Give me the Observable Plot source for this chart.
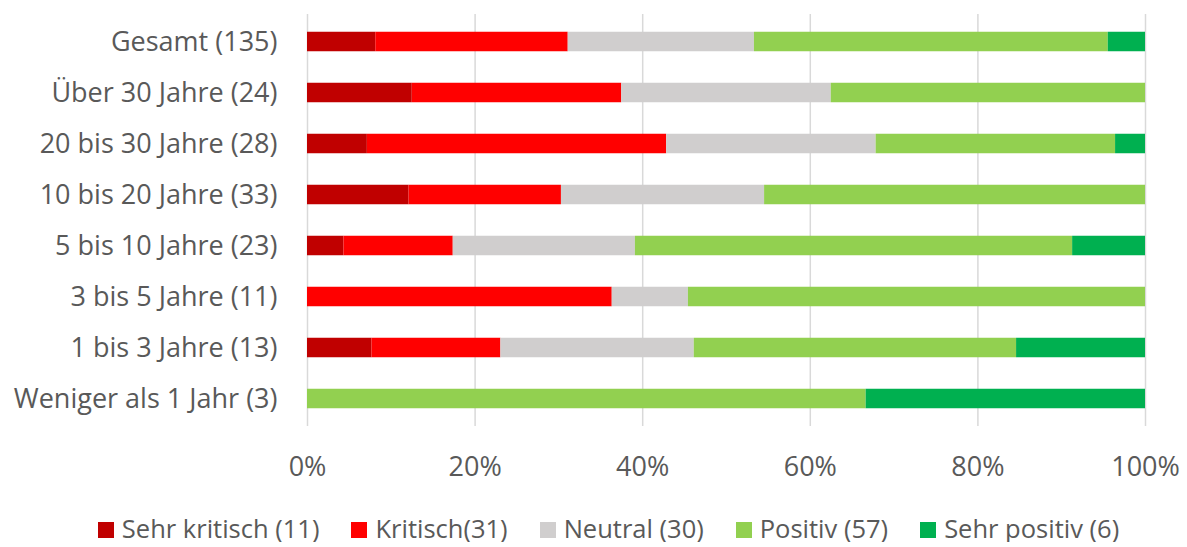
<!DOCTYPE html>
<html><head><meta charset="utf-8">
<script src="https://cdn.jsdelivr.net/npm/d3@7"></script>
<script src="https://cdn.jsdelivr.net/npm/@observablehq/plot@0.6"></script>
<style>
body{margin:0;background:#fff;font-family:"Open Sans",sans-serif;overflow:hidden;}
#legend{display:flex;justify-content:center;align-items:center;gap:32px;font-size:25.5px;line-height:28px;height:28px;color:#595959;padding-top:24px;padding-left:30px;white-space:nowrap;}
#legend span.sw{display:inline-block;width:16px;height:16px;margin-right:8px;vertical-align:0px;}
</style></head>
<body><div id="chart"></div><div id="legend"></div>
<script>
const categories = ["Gesamt (135)","Über 30 Jahre (24)","20 bis 30 Jahre (28)","10 bis 20 Jahre (33)","5 bis 10 Jahre (23)","3 bis 5 Jahre (11)","1 bis 3 Jahre (13)","Weniger als 1 Jahr (3)"];
const seriesNames = ["Sehr kritisch","Kritisch","Neutral","Positiv","Sehr positiv"];
const legendLabels = ["Sehr kritisch (11)","Kritisch(31)","Neutral (30)","Positiv (57)","Sehr positiv (6)"];
const seriesColors = ["#C00000","#FF0000","#D0CECE","#92D050","#00B050"];
const sehrKritisch = [11,3,2,4,1,0,1,0];
const kritisch     = [31,6,10,6,3,4,2,0];
const neutral      = [30,6,7,8,5,1,3,0];
const positiv      = [57,9,8,15,12,6,5,2];
const sehrPositiv  = [6,0,1,0,2,0,2,1];
const xTicks = [0,0.2,0.4,0.6,0.8,1];

const seriesValues = [sehrKritisch,kritisch,neutral,positiv,sehrPositiv];
const data = [];
seriesNames.forEach((s,si)=>categories.forEach((c,ci)=>data.push({category:c,series:s,value:seriesValues[si][ci]})));

const chart = Plot.plot({
  width:1187, height:490,
  marginLeft:307, marginRight:42, marginTop:14, marginBottom:64,
  style:{fontFamily:"Open Sans, sans-serif", fontSize:"27px", color:"#595959", background:"#fff"},
  x:{domain:[0,1], ticks:xTicks, tickFormat:d3.format(".0%"), label:null, tickSize:0, tickPadding:30},
  y:{domain:categories, padding:0, label:null, tickSize:0, tickPadding:30},
  color:{domain:seriesNames, range:seriesColors},
  marks:[
    Plot.ruleX(xTicks,{stroke:"#d9d9d9", strokeWidth:1.5}),
    Plot.barX(data, Plot.stackX({x:"value", y:"category", fill:"series", offset:"normalize", insetTop:15.75, insetBottom:15.75})),
  ]
});
document.getElementById("chart").appendChild(chart);
const lg = document.getElementById("legend");
legendLabels.forEach((l,i)=>{
  const d=document.createElement("div");
  d.innerHTML=`<span class="sw" style="background:${seriesColors[i]}"></span>${l}`;
  lg.appendChild(d);
});
</script></body></html>
